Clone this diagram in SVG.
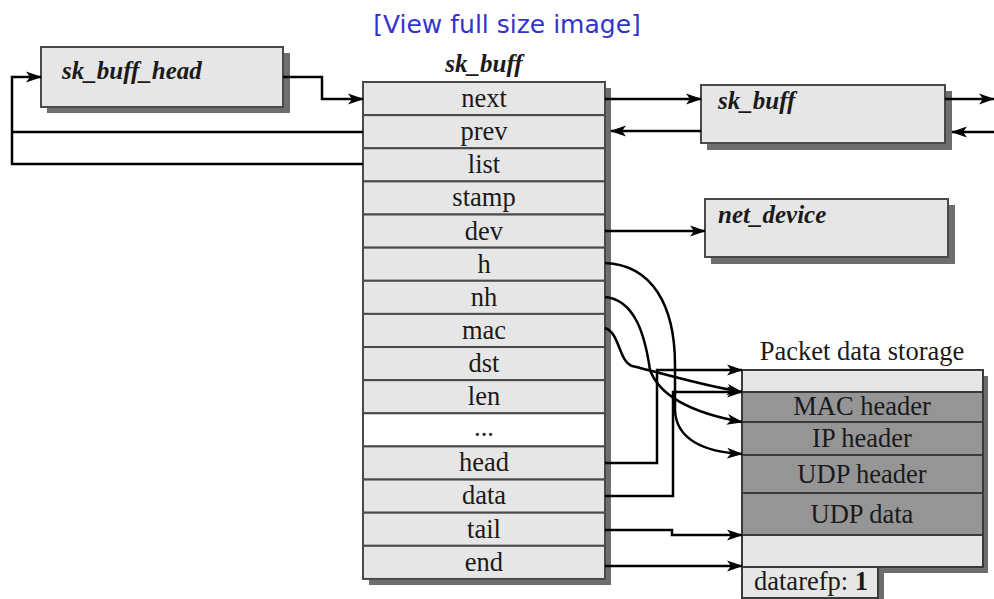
<svg xmlns="http://www.w3.org/2000/svg" width="994" height="599" viewBox="0 0 994 599">
<defs>
<marker id="ah" markerUnits="userSpaceOnUse" markerWidth="16" markerHeight="12" viewBox="0 0 16 12" refX="15" refY="6" orient="auto">
<path d="M0,0.5 L16,6 L0,11.5 L4,6 z" fill="#000"/>
</marker>
<style>
.box{fill:#e6e6e6;stroke:#4a4a4a;stroke-width:2}
.shd{fill:#6e6e6e}
.dark{fill:#959595;stroke:#3a3a3a;stroke-width:2}
.light{fill:#e6e6e6;stroke:#3a3a3a;stroke-width:2}
.row{fill:#e6e6e6;stroke:#4a4a4a;stroke-width:2}
.t{font-family:"Liberation Serif","Times New Roman",serif;font-size:26.5px;fill:#1a1a1a}
.tc{text-anchor:middle}
.bi{font-family:"Liberation Serif","Times New Roman",serif;font-size:25px;font-weight:bold;font-style:italic;fill:#1a1a1a}
.c{fill:none;stroke:#000;stroke-width:2.5;marker-end:url(#ah)}
.l{fill:none;stroke:#000;stroke-width:2.5}
</style>
</defs>
<rect width="994" height="599" fill="#fff"/>
<text x="507" y="33" text-anchor="middle" font-family="'DejaVu Sans',Verdana,sans-serif" font-size="25" fill="#3333cc">[View full size image]</text>

<g id="sk_buff_head">
<rect class="shd" x="47" y="53" width="243" height="60"/>
<rect class="box" x="41" y="47" width="242" height="60"/>
<text class="bi" x="62" y="79">sk_buff_head</text>
</g>

<g id="sk_buff">
<text class="bi" x="484" y="72" text-anchor="middle">sk_buff</text>
<rect class="shd" x="369" y="88" width="242" height="497"/>
<rect class="row" x="363" y="82" width="242" height="33.13"/>
<rect class="row" x="363" y="115.13" width="242" height="33.13"/>
<rect class="row" x="363" y="148.26" width="242" height="33.13"/>
<rect class="row" x="363" y="181.39" width="242" height="33.13"/>
<rect class="row" x="363" y="214.52" width="242" height="33.13"/>
<rect class="row" x="363" y="247.65" width="242" height="33.13"/>
<rect class="row" x="363" y="280.78" width="242" height="33.13"/>
<rect class="row" x="363" y="313.91" width="242" height="33.13"/>
<rect class="row" x="363" y="347.04" width="242" height="33.13"/>
<rect class="row" x="363" y="380.17" width="242" height="33.13"/>
<rect x="363" y="413.3" width="242" height="33.13" fill="#fff" stroke="#4a4a4a" stroke-width="2"/>
<rect class="row" x="363" y="446.43" width="242" height="33.13"/>
<rect class="row" x="363" y="479.56" width="242" height="33.13"/>
<rect class="row" x="363" y="512.69" width="242" height="33.13"/>
<rect class="row" x="363" y="545.82" width="242" height="33.13"/>
<text class="t tc" x="484" y="107">next</text>
<text class="t tc" x="484" y="140">prev</text>
<text class="t tc" x="484" y="173">list</text>
<text class="t tc" x="484" y="206">stamp</text>
<text class="t tc" x="484" y="240">dev</text>
<text class="t tc" x="484" y="273">h</text>
<text class="t tc" x="484" y="306">nh</text>
<text class="t tc" x="484" y="339">mac</text>
<text class="t tc" x="484" y="372">dst</text>
<text class="t tc" x="484" y="405">len</text>
<text class="t tc" x="484" y="436">...</text>
<text class="t tc" x="484" y="471">head</text>
<text class="t tc" x="484" y="504">data</text>
<text class="t tc" x="484" y="538">tail</text>
<text class="t tc" x="484" y="571">end</text>
</g>

<g id="sk_buff_next">
<rect class="shd" x="707" y="91" width="245" height="59"/>
<rect class="box" x="701" y="85" width="244" height="58"/>
<text class="bi" x="718" y="109">sk_buff</text>
</g>

<g id="net_device">
<rect class="shd" x="711" y="205" width="244" height="59"/>
<rect class="box" x="705" y="199" width="243" height="58"/>
<text class="bi" x="718" y="223">net_device</text>
</g>

<g id="packet_data">
<text class="t tc" x="862" y="360">Packet data storage</text>
<rect class="shd" x="748" y="376" width="240" height="197"/>
<rect class="shd" x="748" y="570" width="136" height="29"/>
<rect class="light" x="742" y="370" width="241" height="22"/>
<rect class="dark" x="742" y="392" width="241" height="30"/>
<rect class="dark" x="742" y="422" width="241" height="33"/>
<rect class="dark" x="742" y="455" width="241" height="38"/>
<rect class="dark" x="742" y="493" width="241" height="42"/>
<rect class="light" x="742" y="535" width="241" height="32"/>
<rect class="light" x="742" y="567" width="136" height="31"/>
<text class="t tc" x="862" y="415">MAC header</text>
<text class="t tc" x="862" y="447">IP header</text>
<text class="t tc" x="862" y="483">UDP header</text>
<text class="t tc" x="862" y="523">UDP data</text>
<text class="t" x="754" y="590">datarefp: <tspan font-weight="bold">1</tspan></text>
</g>

<g id="connectors">
<path class="c" d="M283,77 H322 V99 H363"/>
<path class="c" d="M363,164 H12 V77 H41"/>
<path class="l" d="M363,132 H12"/>
<path class="c" d="M605,99 H701"/>
<path class="c" d="M701,131 H611"/>
<path class="c" d="M945,99 H994"/>
<path class="c" d="M994,132 H952"/>
<path class="c" d="M605,231 H705"/>
<path class="c" d="M605,263 C652,265 675,305 675,365 L675,410 C676,440 705,452 742,454"/>
<path class="c" d="M605,297 C635,300 645,335 650,370 C660,397 692,413 742,422"/>
<path class="c" d="M605,328 C620,333 618,360 632,366 C662,373 700,385 742,392"/>
<path class="c" d="M605,463 H657 V370 H742"/>
<path class="c" d="M605,496 H673 V392 H742"/>
<path class="c" d="M605,530 H672 V535 H742"/>
<path class="c" d="M605,566 H742"/>
</g>
</svg>
